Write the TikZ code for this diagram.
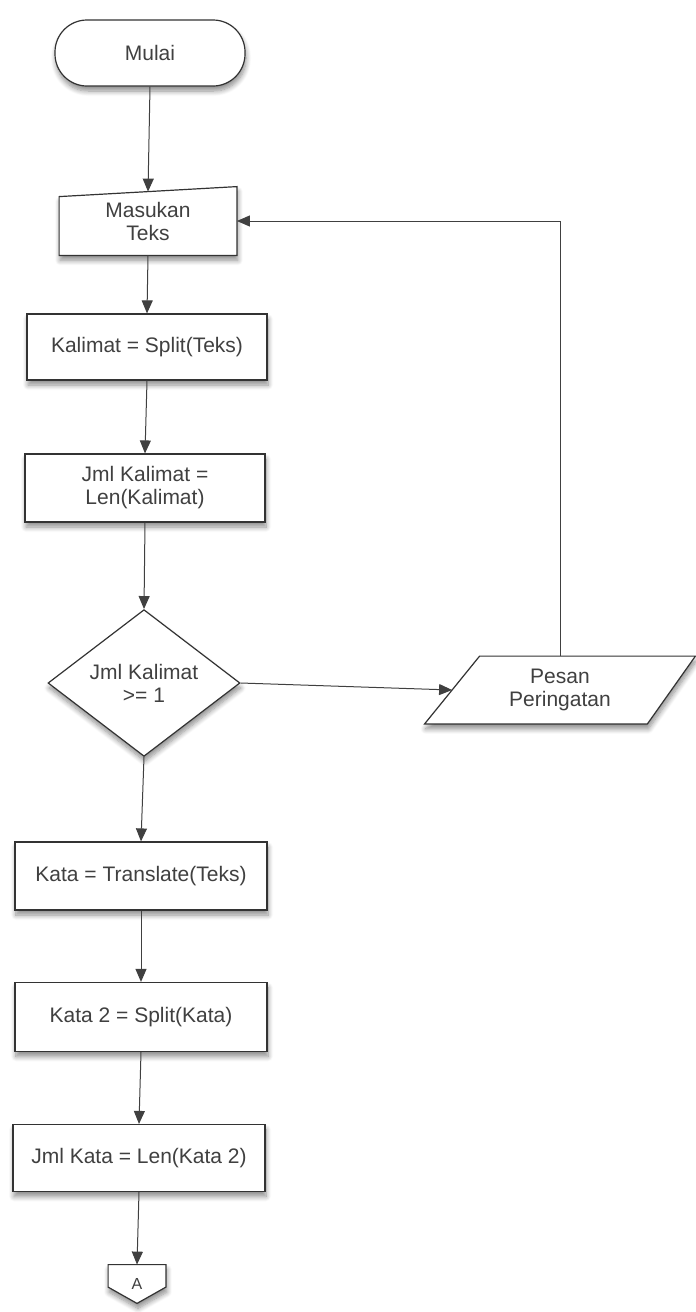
\documentclass[tikz,border=0pt]{standalone}
\usepackage{fontspec}
\setmainfont{Liberation Sans}
\usetikzlibrary{shapes.geometric,arrows.meta,calc,shadows.blur,backgrounds}

\begin{document}
\begin{tikzpicture}[x=0.5pt, y=-0.5pt,
    every node/.style={font=\fontsize{10.5}{11.5}\selectfont, text=black!75, align=center},
    shadowed/.style={blur shadow={shadow xshift=0.5pt, shadow yshift=-2.5pt, shadow blur radius=2.5pt, shadow blur steps=8, shadow opacity=45}},
    outline/.style={draw=black!80, fill=white, line width=0.6pt, shadowed},
    box/.style={outline, minimum width=120pt, minimum height=33pt},
    frame/.style={minimum width=#1, inner sep=0pt},
    line/.style={draw=black!75, line width=0.5pt},
    arr/.style={line, -{Triangle[width=5.5pt,length=6.5pt]}}]

    \useasboundingbox (0,0) rectangle (696,1312);

    % mulai dan input teks
    \node[box, rounded corners=16pt, minimum width=95pt] (mulai) at (150,53) {Mulai};
    \node[frame=88.5pt, minimum height=34pt] (masuk) at (148,221) {Masukan\\Teks};

    % proses kalimat
    \node[box] (kal) at (147,347) {Kalimat = Split(Teks)};
    \node[box, minimum height=34pt] (jmlkal) at (145,488) {Jml Kalimat =\\Len(Kalimat)};

    % cek jumlah kalimat
    \node[diamond, outline, minimum width=96pt, minimum height=73pt, inner sep=0pt] (cek) at (144,683) {Jml Kalimat\\>= 1};
    \node[frame=135pt, minimum height=33.5pt] (pesan) at (560,690) {Pesan\\Peringatan};
    \coordinate (pesanNW) at ($(pesan.north west)+(27.5pt,0pt)$);
    \coordinate (pesanL) at ($(pesan.south west)!0.5!(pesanNW)$);

    % proses kata
    \node[box, minimum width=126pt, minimum height=34pt] (kata) at (141,876) {Kata = Translate(Teks)};
    \node[box, minimum width=126pt, minimum height=34.5pt] (kata2) at (141,1017) {Kata 2 = Split(Kata)};
    \node[box, minimum width=126pt, minimum height=33.5pt] (jmlkata) at (139,1158) {Jml Kata = Len(Kata 2)};
    \node[frame=28.5pt, minimum height=19pt, font=\footnotesize] (conA) at (137,1284) {A};

    % bentuk khusus di belakang teks
    \begin{scope}[on background layer]
        \draw[outline] (masuk.south west) -- (masuk.south east) -- (masuk.north east)
            -- ($(masuk.north west)+(0pt,-5pt)$) -- cycle;
        \draw[outline] (pesanNW) -- (pesan.north east) -- ($(pesan.south east)+(-24pt,0pt)$)
            -- (pesan.south west) -- cycle;
        \draw[outline] (conA.north west) -- (conA.north east) -- ($(conA.north east)!0.58!(conA.south east)$)
            -- (conA.south) -- ($(conA.north west)!0.58!(conA.south west)$) -- cycle;
    \end{scope}

    % panah
    \draw[arr] (mulai.south) -- ($(masuk.north)+(0pt,-2.5pt)$);
    \draw[arr] (masuk.south) -- (kal.north);
    \draw[arr] (kal.south) -- (jmlkal.north);
    \draw[arr] (jmlkal.south) -- (cek.north);
    \draw[arr] (cek.east) -- (pesanL);
    \draw[arr] (pesan.north) |- (masuk.east);
    \draw[arr] (cek.south) -- (kata.north);
    \draw[arr] (kata.south) -- (kata2.north);
    \draw[arr] (kata2.south) -- (jmlkata.north);
    \draw[arr] (jmlkata.south) -- (conA.north);

\end{tikzpicture}
\end{document}
